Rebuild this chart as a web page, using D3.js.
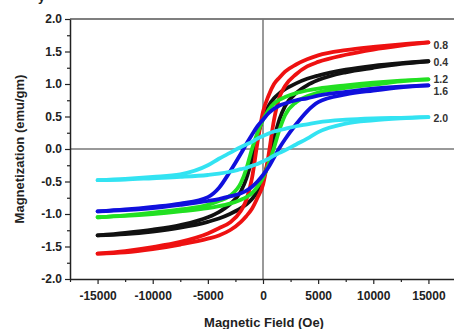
<!DOCTYPE html>
<html>
<head>
<meta charset="utf-8">
<script src="https://cdn.jsdelivr.net/npm/d3@7"></script>
<style>
  body { margin: 0; background: #fff; }
  svg { display: block; font-family: "Liberation Sans", Arial, sans-serif; }
  .tick text { font-weight: bold; font-size: 12px; fill: #222; }
</style>
</head>
<body>
<div id="chart"></div>
<script>
var fieldH = [-15000, -12500, -10000, -7500, -5000, -4000, -3000, -2000, -1500, -1000, -500, 0,
              500, 1000, 1500, 2000, 3000, 4000, 5000, 7500, 10000, 12500, 15000];

// descending branch (coming back from +H) and ascending branch, emu/gm
var up04 = [-1.33, -1.29, -1.24, -1.17, -1.05, -0.97, -0.85, -0.65, -0.45, -0.15, 0.20, 0.48,
            0.66, 0.78, 0.86, 0.92, 1.01, 1.08, 1.13, 1.22, 1.28, 1.32, 1.35];
var dn04 = [-1.33, -1.31, -1.27, -1.21, -1.12, -1.07, -1.00, -0.91, -0.85, -0.77, -0.65, -0.47,
            -0.18, 0.16, 0.46, 0.66, 0.86, 0.98, 1.06, 1.18, 1.25, 1.31, 1.35];

var up08 = [-1.61, -1.57, -1.51, -1.43, -1.30, -1.22, -1.13, -0.95, -0.78, -0.45, 0.10, 0.57,
            0.82, 1.00, 1.10, 1.19, 1.30, 1.38, 1.44, 1.52, 1.57, 1.61, 1.64];
var dn08 = [-1.61, -1.59, -1.54, -1.47, -1.38, -1.33, -1.25, -1.12, -1.03, -0.92, -0.75, -0.55,
            -0.10, 0.45, 0.80, 0.97, 1.15, 1.27, 1.34, 1.45, 1.53, 1.59, 1.64];

var up12 = [-1.05, -1.02, -0.98, -0.93, -0.86, -0.80, -0.72, -0.52, -0.30, 0.00, 0.25, 0.45,
            0.60, 0.70, 0.76, 0.80, 0.86, 0.90, 0.93, 0.98, 1.02, 1.05, 1.07];
var dn12 = [-1.05, -1.03, -1.00, -0.96, -0.91, -0.88, -0.84, -0.78, -0.74, -0.68, -0.58, -0.44,
            -0.24, 0.02, 0.30, 0.52, 0.72, 0.81, 0.87, 0.94, 0.99, 1.04, 1.07];

var up16 = [-0.96, -0.93, -0.89, -0.84, -0.74, -0.60, -0.35, -0.07, 0.08, 0.22, 0.35, 0.45,
            0.55, 0.62, 0.67, 0.70, 0.75, 0.78, 0.82, 0.88, 0.93, 0.96, 0.98];
var dn16 = [-0.96, -0.94, -0.91, -0.86, -0.80, -0.77, -0.73, -0.68, -0.64, -0.58, -0.50, -0.40,
            -0.28, -0.13, 0.02, 0.15, 0.38, 0.58, 0.72, 0.84, 0.90, 0.95, 0.98];

var up20 = [-0.48, -0.46, -0.43, -0.39, -0.25, -0.15, -0.06, 0.03, 0.07, 0.11, 0.16, 0.20,
            0.24, 0.27, 0.29, 0.31, 0.35, 0.38, 0.41, 0.45, 0.47, 0.48, 0.49];
var dn20 = [-0.48, -0.47, -0.45, -0.43, -0.40, -0.38, -0.35, -0.31, -0.29, -0.26, -0.23, -0.19,
            -0.15, -0.10, -0.06, -0.02, 0.07, 0.16, 0.26, 0.39, 0.44, 0.47, 0.49];

var sampleNames = ["0.4", "0.8", "1.2", "1.6", "2.0"];
var upBranches = [up04, up08, up12, up16, up20];
var dnBranches = [dn04, dn08, dn12, dn16, dn20];

var yTicks = [-2.0, -1.5, -1.0, -0.5, 0.0, 0.5, 1.0, 1.5, 2.0];
var xTicks = [-15000, -10000, -5000, 0, 5000, 10000, 15000];

// styling
var colors = {"0.4": "#111111", "0.8": "#ee1111", "1.2": "#22e022", "1.6": "#1010dd", "2.0": "#33e3f2"};
var labelShift = {"0.4": 5, "0.8": 7, "1.2": 3.5, "1.6": 10, "2.0": 4.5};

var width = 454, height = 329;
var plotLeft = 70, plotTop = 19, plotBottom = 279, plotRight = 456;

var svg = d3.select("#chart").append("svg")
    .attr("width", width)
    .attr("height", height);

var xScale = d3.scaleLinear().domain([-17500, 17500]).range([plotLeft, plotRight]);
var yScale = d3.scaleLinear().domain([-2, 2]).range([plotBottom, plotTop]);

// plain hyphen minus like the original
var fmtX = function(d) { return String(d); };
var fmtY = function(d) { return d.toFixed(1); };

/* frame: top line and zero lines */
svg.append("line")
    .attr("x1", plotLeft).attr("x2", width)
    .attr("y1", plotTop).attr("y2", plotTop)
    .style("stroke", "#555").style("stroke-width", 1.5);

svg.append("line")
    .attr("x1", plotLeft).attr("x2", width)
    .attr("y1", yScale(0)).attr("y2", yScale(0))
    .style("stroke", "#777").style("stroke-width", 1.5);

svg.append("line")
    .attr("x1", xScale(0)).attr("x2", xScale(0))
    .attr("y1", plotTop).attr("y2", plotBottom)
    .style("stroke", "#777").style("stroke-width", 1.5);

/* curves */
var line = d3.line()
    .x(function(d) { return xScale(d[0]); })
    .y(function(d) { return yScale(d[1]); })
    .curve(d3.curveMonotoneX);

var curves = svg.append("g").attr("class", "curves");

sampleNames.forEach(function(name, i) {
    var upPts = fieldH.map(function(h, j) { return [h, upBranches[i][j]]; });
    var dnPts = fieldH.map(function(h, j) { return [h, dnBranches[i][j]]; });
    [upPts, dnPts].forEach(function(pts) {
        curves.append("path")
            .attr("d", line(pts))
            .style("fill", "none")
            .style("stroke", colors[name])
            .style("stroke-width", 3.8)
            .style("stroke-linecap", "round");
    });
});

/* sample labels */
sampleNames.forEach(function(name, i) {
    var last = upBranches[i][upBranches[i].length - 1];
    svg.append("text")
        .attr("x", xScale(15000) + 5)
        .attr("y", yScale(last) + labelShift[name])
        .style("font-size", "10.5px")
        .style("font-weight", "bold")
        .style("fill", "#333")
        .text(name);
});

/* axes */
var xAxis = d3.axisBottom(xScale)
    .tickValues(xTicks)
    .tickFormat(fmtX)
    .tickSize(5)
    .tickSizeOuter(0);

var xMinor = d3.axisBottom(xScale)
    .tickValues(xTicks.map(function(t) { return t + 2500; }).concat([-17500]))
    .tickFormat("")
    .tickSize(3)
    .tickSizeOuter(0);

var yAxis = d3.axisLeft(yScale)
    .tickValues(yTicks)
    .tickFormat(fmtY)
    .tickSize(5)
    .tickSizeOuter(0);

var yMinor = d3.axisLeft(yScale)
    .tickValues(yTicks.slice(0, -1).map(function(t) { return t + 0.25; }))
    .tickFormat("")
    .tickSize(3)
    .tickSizeOuter(0);

svg.append("g")
    .attr("class", "x axis")
    .attr("transform", "translate(0," + plotBottom + ")")
    .call(xAxis);

svg.append("g")
    .attr("transform", "translate(0," + plotBottom + ")")
    .call(xMinor)
    .select(".domain").remove();

svg.append("g")
    .attr("class", "y axis")
    .attr("transform", "translate(" + plotLeft + ",0)")
    .call(yAxis);

svg.append("g")
    .attr("transform", "translate(" + plotLeft + ",0)")
    .call(yMinor)
    .select(".domain").remove();

svg.selectAll(".domain").style("stroke", "#222").style("stroke-width", 1.5);
svg.selectAll(".tick line").style("stroke", "#222").style("stroke-width", 1.2);
svg.selectAll(".x.axis .tick text").attr("dy", "1.05em");

/* axis titles */
svg.append("text")
    .attr("x", 264)
    .attr("y", 327)
    .attr("text-anchor", "middle")
    .style("font-size", "13px")
    .style("font-weight", "bold")
    .style("fill", "#222")
    .text("Magnetic Field (Oe)");

svg.append("text")
    .attr("transform", "translate(24," + yScale(0) + ") rotate(-90)")
    .attr("text-anchor", "middle")
    .style("font-size", "13px")
    .style("font-weight", "bold")
    .style("fill", "#222")
    .text("Magnetization (emu/gm)");

// tail of the caption cut off above the figure
svg.append("text")
    .attr("x", 38)
    .attr("y", 1)
    .style("font-size", "13px")
    .style("font-weight", "bold")
    .style("fill", "#222")
    .text("y");
</script>
</body>
</html>
